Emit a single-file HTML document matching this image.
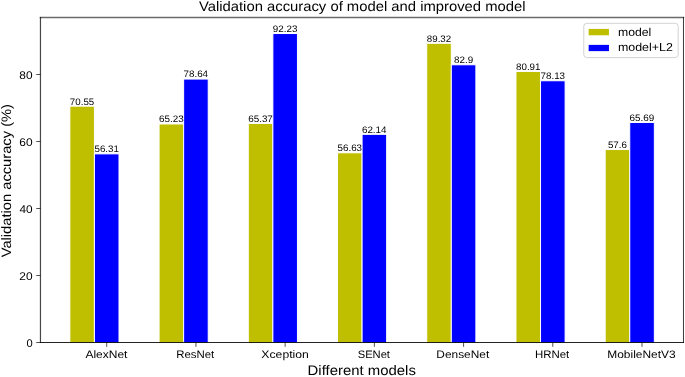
<!DOCTYPE html>
<html><head><meta charset="utf-8"><title>Validation accuracy of model and improved model</title>
<style>
html,body{margin:0;padding:0;background:#fff;}
body{width:685px;height:377px;overflow:hidden;}
svg{display:block;will-change:transform;}
text{font-family:"Liberation Sans", sans-serif;fill:#000;text-rendering:geometricPrecision;}
</style></head><body>
<svg width="685" height="377" viewBox="0 0 685 377">
<rect x="69.85" y="106.16" width="24.575" height="238.34" fill="#bfbf00" stroke="#fff" stroke-width="1.0"/>
<rect x="94.42" y="153.86" width="24.575" height="190.64" fill="#0000ff" stroke="#fff" stroke-width="1.0"/>
<rect x="159.07" y="123.98" width="24.575" height="220.52" fill="#bfbf00" stroke="#fff" stroke-width="1.0"/>
<rect x="183.64" y="79.06" width="24.575" height="265.44" fill="#0000ff" stroke="#fff" stroke-width="1.0"/>
<rect x="248.29" y="123.51" width="24.575" height="220.99" fill="#bfbf00" stroke="#fff" stroke-width="1.0"/>
<rect x="272.87" y="33.53" width="24.575" height="310.97" fill="#0000ff" stroke="#fff" stroke-width="1.0"/>
<rect x="337.51" y="152.79" width="24.575" height="191.71" fill="#bfbf00" stroke="#fff" stroke-width="1.0"/>
<rect x="362.08" y="134.33" width="24.575" height="210.17" fill="#0000ff" stroke="#fff" stroke-width="1.0"/>
<rect x="426.73" y="43.28" width="24.575" height="301.22" fill="#bfbf00" stroke="#fff" stroke-width="1.0"/>
<rect x="451.31" y="64.78" width="24.575" height="279.72" fill="#0000ff" stroke="#fff" stroke-width="1.0"/>
<rect x="515.95" y="71.45" width="24.575" height="273.05" fill="#bfbf00" stroke="#fff" stroke-width="1.0"/>
<rect x="540.53" y="80.76" width="24.575" height="263.74" fill="#0000ff" stroke="#fff" stroke-width="1.0"/>
<rect x="605.17" y="149.54" width="24.575" height="194.96" fill="#bfbf00" stroke="#fff" stroke-width="1.0"/>
<rect x="629.75" y="122.44" width="24.575" height="222.06" fill="#0000ff" stroke="#fff" stroke-width="1.0"/>
<rect x="40.46" y="342.50" width="643.01" height="4" fill="#fff"/>
<line x1="40.46" y1="17.56" x2="683.47" y2="17.56" stroke="#000" stroke-opacity="0.58" stroke-width="1.5" stroke-linecap="square"/>
<line x1="40.46" y1="342.5" x2="683.47" y2="342.5" stroke="#000" stroke-opacity="0.86" stroke-width="1.0" stroke-linecap="square"/>
<line x1="40.46" y1="17.56" x2="40.46" y2="342.5" stroke="#000" stroke-opacity="0.72" stroke-width="1.2" stroke-linecap="square"/>
<line x1="683.47" y1="17.56" x2="683.47" y2="342.5" stroke="#000" stroke-opacity="0.84" stroke-width="0.92" stroke-linecap="square"/>
<line x1="36.26" y1="342.50" x2="40.46" y2="342.50" stroke="#000" stroke-opacity="0.72" stroke-width="0.95"/>
<line x1="36.26" y1="275.50" x2="40.46" y2="275.50" stroke="#000" stroke-opacity="0.72" stroke-width="0.95"/>
<line x1="36.26" y1="208.50" x2="40.46" y2="208.50" stroke="#000" stroke-opacity="0.72" stroke-width="0.95"/>
<line x1="36.26" y1="141.50" x2="40.46" y2="141.50" stroke="#000" stroke-opacity="0.72" stroke-width="0.95"/>
<line x1="36.26" y1="74.50" x2="40.46" y2="74.50" stroke="#000" stroke-opacity="0.72" stroke-width="0.95"/>
<line x1="106.71" y1="342.5" x2="106.71" y2="346.80" stroke="#000" stroke-opacity="0.72" stroke-width="0.95"/>
<line x1="195.93" y1="342.5" x2="195.93" y2="346.80" stroke="#000" stroke-opacity="0.72" stroke-width="0.95"/>
<line x1="285.15" y1="342.5" x2="285.15" y2="346.80" stroke="#000" stroke-opacity="0.72" stroke-width="0.95"/>
<line x1="374.37" y1="342.5" x2="374.37" y2="346.80" stroke="#000" stroke-opacity="0.72" stroke-width="0.95"/>
<line x1="463.59" y1="342.5" x2="463.59" y2="346.80" stroke="#000" stroke-opacity="0.72" stroke-width="0.95"/>
<line x1="552.81" y1="342.5" x2="552.81" y2="346.80" stroke="#000" stroke-opacity="0.72" stroke-width="0.95"/>
<line x1="642.03" y1="342.5" x2="642.03" y2="346.80" stroke="#000" stroke-opacity="0.72" stroke-width="0.95"/>
<g class="t">
<text x="26.40" y="346.70" font-size="11.27" textLength="6.20" lengthAdjust="spacingAndGlyphs">0</text>
<text x="19.32" y="279.70" font-size="11.27" textLength="13.26" lengthAdjust="spacingAndGlyphs">20</text>
<text x="19.42" y="212.70" font-size="11.27" textLength="13.16" lengthAdjust="spacingAndGlyphs">40</text>
<text x="19.29" y="145.70" font-size="11.27" textLength="13.30" lengthAdjust="spacingAndGlyphs">60</text>
<text x="19.39" y="78.70" font-size="11.27" textLength="13.20" lengthAdjust="spacingAndGlyphs">80</text>
<text x="85.41" y="358.40" font-size="10.84" textLength="42.02" lengthAdjust="spacingAndGlyphs">AlexNet</text>
<text x="176.19" y="358.40" font-size="10.84" textLength="38.03" lengthAdjust="spacingAndGlyphs">ResNet</text>
<text x="261.38" y="358.40" font-size="10.84" textLength="47.45" lengthAdjust="spacingAndGlyphs">Xception</text>
<text x="357.73" y="358.40" font-size="10.84" textLength="32.23" lengthAdjust="spacingAndGlyphs">SENet</text>
<text x="436.39" y="358.40" font-size="10.84" textLength="52.82" lengthAdjust="spacingAndGlyphs">DenseNet</text>
<text x="534.90" y="358.40" font-size="10.84" textLength="34.31" lengthAdjust="spacingAndGlyphs">HRNet</text>
<text x="607.29" y="358.40" font-size="10.84" textLength="68.34" lengthAdjust="spacingAndGlyphs">MobileNetV3</text>
<text x="69.87" y="104.56" font-size="9.45" textLength="24.37" lengthAdjust="spacingAndGlyphs">70.55</text>
<text x="94.54" y="152.26" font-size="9.45" textLength="24.37" lengthAdjust="spacingAndGlyphs">56.31</text>
<text x="159.00" y="122.38" font-size="9.45" textLength="24.65" lengthAdjust="spacingAndGlyphs">65.23</text>
<text x="183.52" y="77.46" font-size="9.45" textLength="24.55" lengthAdjust="spacingAndGlyphs">78.64</text>
<text x="248.24" y="121.91" font-size="9.45" textLength="24.60" lengthAdjust="spacingAndGlyphs">65.37</text>
<text x="272.86" y="31.93" font-size="9.45" textLength="24.61" lengthAdjust="spacingAndGlyphs">92.23</text>
<text x="337.57" y="151.19" font-size="9.45" textLength="24.48" lengthAdjust="spacingAndGlyphs">56.63</text>
<text x="361.91" y="132.73" font-size="9.45" textLength="24.66" lengthAdjust="spacingAndGlyphs">62.14</text>
<text x="426.84" y="41.68" font-size="9.45" textLength="24.38" lengthAdjust="spacingAndGlyphs">89.32</text>
<text x="454.06" y="63.18" font-size="9.45" textLength="19.12" lengthAdjust="spacingAndGlyphs">82.9</text>
<text x="516.02" y="69.85" font-size="9.45" textLength="24.45" lengthAdjust="spacingAndGlyphs">80.91</text>
<text x="540.51" y="79.16" font-size="9.45" textLength="24.54" lengthAdjust="spacingAndGlyphs">78.13</text>
<text x="607.94" y="147.94" font-size="9.45" textLength="19.00" lengthAdjust="spacingAndGlyphs">57.6</text>
<text x="629.63" y="120.84" font-size="9.45" textLength="24.74" lengthAdjust="spacingAndGlyphs">65.69</text>
<text x="198.93" y="10.95" font-size="13.91" textLength="326.62" lengthAdjust="spacingAndGlyphs">Validation accuracy of model and improved model</text>
<text x="307.59" y="375.20" font-size="13.78" textLength="108.32" lengthAdjust="spacingAndGlyphs">Different models</text>
<text x="-64.90" y="181.10" font-size="13.65" textLength="153.28" lengthAdjust="spacingAndGlyphs" transform="rotate(-90 11.30 181.10)">Validation accuracy (%)</text>
</g>
<rect x="583.75" y="23.3" width="94.45" height="34.25" rx="3" ry="3" fill="#fff" fill-opacity="0.8" stroke="#cccccc" stroke-width="0.87"/>
<rect x="588.0" y="28.25" width="21.6" height="7.7" fill="#bfbf00" stroke="#fff" stroke-width="1.3"/>
<rect x="588.0" y="44.2" width="21.6" height="7.6" fill="#0000ff" stroke="#fff" stroke-width="1.3"/>
<text x="617.97" y="35.80" font-size="11.49" textLength="33.26" lengthAdjust="spacingAndGlyphs">model</text>
<text x="617.95" y="51.45" font-size="11.49" textLength="54.95" lengthAdjust="spacingAndGlyphs">model+L2</text>
</svg>
</body></html>
